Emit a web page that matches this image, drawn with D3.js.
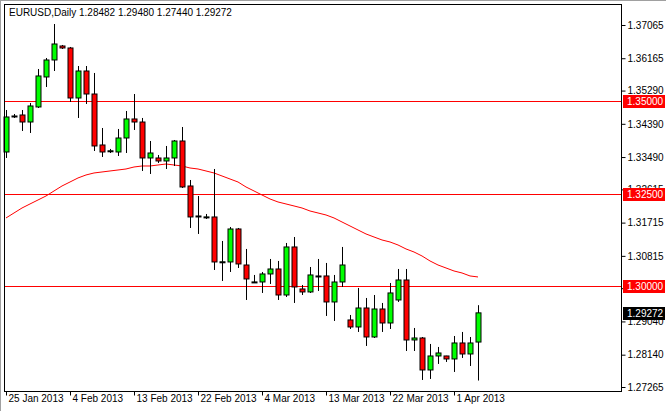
<!DOCTYPE html>
<html>
<head>
<meta charset="utf-8">
<script src="https://cdn.jsdelivr.net/npm/d3@7"></script>
<style>
  body { margin: 0; background: #fff; }
  svg text { font-family: "Liberation Sans", Arial, sans-serif; font-size: 10px; }
</style>
</head>
<body>
<svg id="chart" width="666" height="411"></svg>
<script>
// daily EURUSD bars, 25 Jan 2013 .. 2 Apr 2013 (incl. sunday bars)
const opens  = [1.33627,1.34602,1.34629,1.34439,1.34846,1.35658,1.36118,1.36497,1.36443,1.35089,
                1.35820,1.35197,1.33817,1.33654,1.33627,1.34006,1.34521,1.34439,1.33465,1.33465,
                1.33384,1.33465,1.33925,1.32707,1.31868,1.31868,1.31868,1.30650,1.30650,1.31543,
                1.30568,1.30108,1.30108,1.30325,1.30460,1.29756,1.31056,1.29919,1.29838,1.30271,
                1.30271,1.29567,1.30108,1.29080,1.28890,1.29404,1.28619,1.29377,1.28998,1.29621,
                1.30162,1.28538,1.28592,1.27726,1.28105,1.28105,1.28024,1.28457,1.28159,1.28482];
const highs  = [1.34764,1.34656,1.34764,1.34954,1.35874,1.36172,1.37092,1.36524,1.36470,1.35955,
                1.35955,1.35766,1.34277,1.33709,1.34250,1.34737,1.35197,1.34548,1.33925,1.33546,
                1.33790,1.33952,1.34304,1.32869,1.32436,1.31949,1.33167,1.31218,1.31597,1.31570,
                1.31002,1.30298,1.30379,1.30731,1.30677,1.31164,1.31326,1.30027,1.30514,1.30731,
                1.30623,1.30298,1.31056,1.29215,1.29946,1.29675,1.29756,1.29540,1.30081,1.30460,
                1.30460,1.28863,1.28619,1.28430,1.28349,1.28110,1.28646,1.28755,1.28619,1.29480];
const lows   = [1.33465,1.34548,1.34196,1.34142,1.34818,1.35387,1.35820,1.36416,1.34981,1.34548,
                1.34927,1.33654,1.33492,1.33600,1.33519,1.33600,1.34223,1.33113,1.33032,1.33330,
                1.33167,1.33248,1.32653,1.31570,1.31408,1.31814,1.30433,1.30135,1.30379,1.30487,
                1.29621,1.30081,1.29811,1.30054,1.29621,1.29702,1.29540,1.29756,1.29811,1.29865,
                1.29188,1.29053,1.29973,1.28836,1.28755,1.28376,1.28592,1.28755,1.28836,1.29567,
                1.28240,1.28240,1.27455,1.27483,1.27889,1.27943,1.27672,1.28051,1.27834,1.27440];
const closes = [1.34575,1.34602,1.34439,1.34873,1.35685,1.36118,1.36551,1.36443,1.35089,1.35820,
                1.35197,1.33790,1.33627,1.33660,1.34006,1.34521,1.34439,1.33465,1.33600,1.33384,
                1.33465,1.33925,1.32680,1.31868,1.31895,1.31870,1.30650,1.30655,1.31543,1.30596,
                1.30190,1.30110,1.30325,1.30460,1.29756,1.31056,1.29973,1.29838,1.30298,1.30265,
                1.29567,1.30108,1.30568,1.28890,1.29404,1.28619,1.29377,1.28998,1.29811,1.30162,
                1.28538,1.28592,1.27726,1.28105,1.28186,1.28024,1.28457,1.28159,1.28457,1.29272];
const movingAvg = [1.31841,1.31976,1.32111,1.32220,1.32328,1.32436,1.32572,1.32707,1.32815,1.32924,
                   1.33005,1.33059,1.33086,1.33113,1.33140,1.33167,1.33221,1.33248,1.33248,1.33275,
                   1.33302,1.33275,1.33248,1.33194,1.33167,1.33113,1.33059,1.32978,1.32896,1.32815,
                   1.32680,1.32572,1.32463,1.32355,1.32274,1.32220,1.32166,1.32111,1.32030,1.31976,
                   1.31922,1.31841,1.31732,1.31624,1.31516,1.31408,1.31326,1.31245,1.31191,1.31110,
                   1.31002,1.30920,1.30812,1.30677,1.30568,1.30487,1.30406,1.30352,1.30271,1.30244];
const priceTicks = [1.37065,1.36165,1.35290,1.34390,1.33490,1.32615,1.31715,1.30815,1.29940,1.29040,1.28140,1.27265];
const levels = [1.35, 1.325, 1.30];
const dateTickIdx = [0, 8, 16, 24, 32, 40, 48, 56];
const dateTickLabels = ["25 Jan 2013","4 Feb 2013","13 Feb 2013","22 Feb 2013","4 Mar 2013","13 Mar 2013","22 Mar 2013","1 Apr 2013"];
const lastPrice = 1.29272;

const svg = d3.select('#chart');
const plot = { left: 4, right: 621, top: 4, bottom: 391 };

const x = d3.scaleLinear().domain([0, 59]).range([6, 478]);
const y = d3.scaleLinear().domain([1.27265, 1.37065]).range([387, 25]);

// window frame
svg.append('rect').attr('x', 0).attr('y', 0).attr('width', 666).attr('height', 411).attr('fill', '#fff');
svg.append('line').attr('x1', 0).attr('x2', 666).attr('y1', 0.5).attr('y2', 0.5).attr('stroke', '#a0a0a0');
svg.append('line').attr('x1', 0.5).attr('x2', 0.5).attr('y1', 0).attr('y2', 411).attr('stroke', '#a0a0a0');

// moving average
const idx = d3.range(opens.length);
svg.append('path')
  .datum(idx)
  .attr('fill', 'none').attr('stroke', '#ff0000').attr('stroke-width', 1)
  .attr('d', d3.line().x(i => x(i)).y(i => y(movingAvg[i])));

// horizontal levels
svg.selectAll('.lvl').data(levels).enter().append('line')
  .attr('x1', plot.left).attr('x2', plot.right)
  .attr('y1', d => Math.round(y(d)) + 0.5).attr('y2', d => Math.round(y(d)) + 0.5)
  .attr('stroke', '#ff0000');

// candles
const g = svg.append('g');
g.selectAll('.wick').data(idx).enter().append('line')
  .attr('x1', i => Math.round(x(i)) + 0.5).attr('x2', i => Math.round(x(i)) + 0.5)
  .attr('y1', i => y(highs[i])).attr('y2', i => y(lows[i]))
  .attr('stroke', '#000');
g.selectAll('.body').data(idx).enter().append('rect')
  .attr('x', i => Math.round(x(i)) - 2)
  .attr('y', i => y(Math.max(opens[i], closes[i])))
  .attr('width', 5)
  .attr('height', i => Math.max(1, Math.abs(y(opens[i]) - y(closes[i]))))
  .attr('fill', i => closes[i] >= opens[i] ? '#00ff00' : '#ff0000')
  .attr('stroke', '#000');

// plot border
svg.append('rect').attr('x', plot.left + 0.5).attr('y', plot.top + 0.5)
  .attr('width', plot.right - plot.left).attr('height', plot.bottom - plot.top)
  .attr('fill', 'none').attr('stroke', '#000');

// price axis
const yAxis = svg.append('g').attr('transform', `translate(${plot.right + 0.5},0)`)
  .call(d3.axisRight(y).tickValues(priceTicks).tickSize(4).tickPadding(2).tickFormat(d3.format('.5f')));
yAxis.select('.domain').remove();
yAxis.selectAll('text').attr('fill', '#000');

// level boxes
const boxes = levels.map(v => ({ v, bg: '#ff0000' })).concat([{ v: lastPrice, bg: '#000' }]);
const bx = svg.selectAll('.box').data(boxes).enter().append('g')
  .attr('transform', d => `translate(${plot.right + 2},${Math.round(y(d.v))})`);
bx.append('rect').attr('x', 0).attr('y', -6).attr('width', 42).attr('height', 13).attr('fill', d => d.bg);
bx.append('text').attr('x', 4).attr('y', 4).attr('fill', '#fff').text(d => d3.format('.5f')(d.v));

// date axis
const xAxis = svg.append('g').attr('transform', `translate(0,${plot.bottom + 0.5})`)
  .call(d3.axisBottom(x).tickValues(dateTickIdx).tickSize(4).tickFormat((d, k) => dateTickLabels[k]));
xAxis.select('.domain').remove();
xAxis.selectAll('text').attr('text-anchor', 'start').attr('x', 2).attr('dy', '0.3em').attr('fill', '#000');

// title
svg.append('text').attr('x', 9).attr('y', 16).attr('fill', '#000')
  .text('EURUSD,Daily  1.28482 1.29480 1.27440 1.29272');
</script>
</body>
</html>
